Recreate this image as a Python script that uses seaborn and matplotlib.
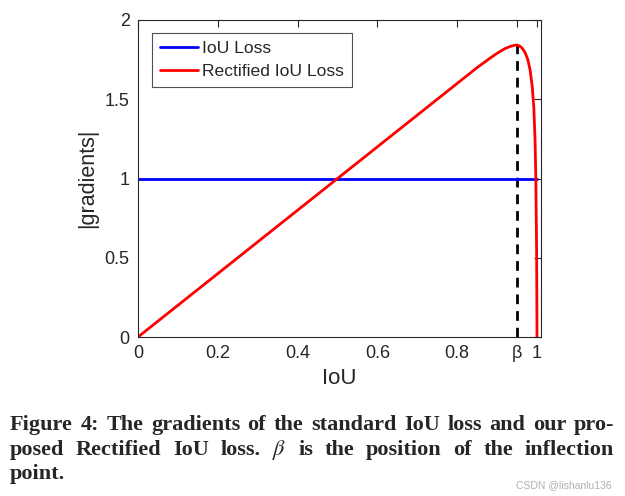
import matplotlib
matplotlib.use('Agg')
import matplotlib.pyplot as plt
import seaborn as sns

# --- Data ---
IOU_X = [0.0, 1.0]
IOU_GRAD = [1.0, 1.0]

RIOU_X = [0.0, 0.5, 0.85, 0.88, 0.90, 0.92, 0.935, 0.945, 0.949, 0.955,
          0.962, 0.970, 0.977, 0.983, 0.988, 0.992, 0.995, 0.997, 0.999, 1.0]
RIOU_GRAD = [0.0, 1.0, 1.70, 1.755, 1.79, 1.82, 1.835, 1.841, 1.842, 1.838,
             1.825, 1.795, 1.75, 1.68, 1.58, 1.45, 1.25, 1.0, 0.55, 0.0]

BETA = 0.949
PEAK = 1.842

X_TICKS = [0, 0.2, 0.4, 0.6, 0.8, BETA, 1]
X_TICK_LABELS = ["0", "0.2", "0.4", "0.6", "0.8", "β", "1"]
Y_TICKS = [0, 0.5, 1, 1.5, 2]
Y_TICK_LABELS = ["0", "0.5", "1", "1.5", "2"]

CAPTION = [
    "Figure 4: The gradients of the standard IoU loss and our pro-",
    r"posed Rectified IoU loss. $\beta$ is the position of the inflection",
    "point.",
]

W, H = 625, 496

sns.set_style("white")
plt.rcParams['font.family'] = ['Liberation Sans', 'DejaVu Sans']
plt.rcParams['mathtext.fontset'] = 'stix'

fig = plt.figure(figsize=(W / 100, H / 100), dpi=100)
ax = fig.add_axes([138 / W, 1 - 337 / H, 403 / W, 317 / H])

sns.lineplot(x=IOU_X, y=IOU_GRAD, ax=ax, color='#0000ff', lw=2, label='IoU Loss')
sns.lineplot(x=RIOU_X, y=RIOU_GRAD, ax=ax, color='#ff0000', lw=2,
             label='Rectified IoU Loss', sort=False)
ax.plot([BETA, BETA], [0, PEAK], color='black', lw=2, ls=(0, (3.5, 2.5)), zorder=1)

ax.set_xlim(0, 1.01)
ax.set_ylim(0, 2)
ax.set_xticks(X_TICKS)
ax.set_xticklabels(X_TICK_LABELS)
ax.set_yticks(Y_TICKS)
ax.set_yticklabels(Y_TICK_LABELS)
ax.tick_params(direction='in', length=5, width=0.8, color='#262626',
               labelsize=13, top=True, right=True, pad=6, labelcolor='#262626')
for s in ax.spines.values():
    s.set_color('#262626')
    s.set_linewidth(0.8)

ax.set_xlabel('IoU', fontsize=16, color='#262626', labelpad=4)
ax.set_ylabel('|gradients|', fontsize=15.5, color='#262626', labelpad=5)

leg = ax.legend(loc='upper left', fontsize=12.6, frameon=True, fancybox=False,
                handlelength=2.2, handletextpad=0.2, borderpad=0.45,
                labelspacing=0.45, borderaxespad=0,
                bbox_to_anchor=(14 / 403, 1 - 13 / 317))
leg.get_frame().set_edgecolor('#262626')
leg.get_frame().set_linewidth(0.8)

# caption, justified between x=10 and x=614 px
renderer = fig.canvas.get_renderer()
x_left, x_right = 10, 614
baselines = [430, 455, 479]
for i, line in enumerate(CAPTION):
    words = line.split(' ')
    texts = [fig.text(0, 1 - baselines[i] / H, w, fontsize=16, fontweight='bold',
                      family=['Liberation Serif', 'DejaVu Serif'],
                      ha='left', va='baseline') for w in words]
    widths = [t.get_window_extent(renderer).width for t in texts]
    last = i == len(CAPTION) - 1
    gap = 5 if last or len(words) < 2 else (x_right - x_left - sum(widths)) / (len(words) - 1)
    x = x_left
    for t, w in zip(texts, widths):
        t.set_x(x / W)
        x += w + gap

fig.text(612 / W, 1 - 488 / H, 'CSDN @lishanlu136', fontsize=7.5,
         color='#b0b0b0', ha='right', va='baseline')

fig.savefig('out.png', dpi=100)
